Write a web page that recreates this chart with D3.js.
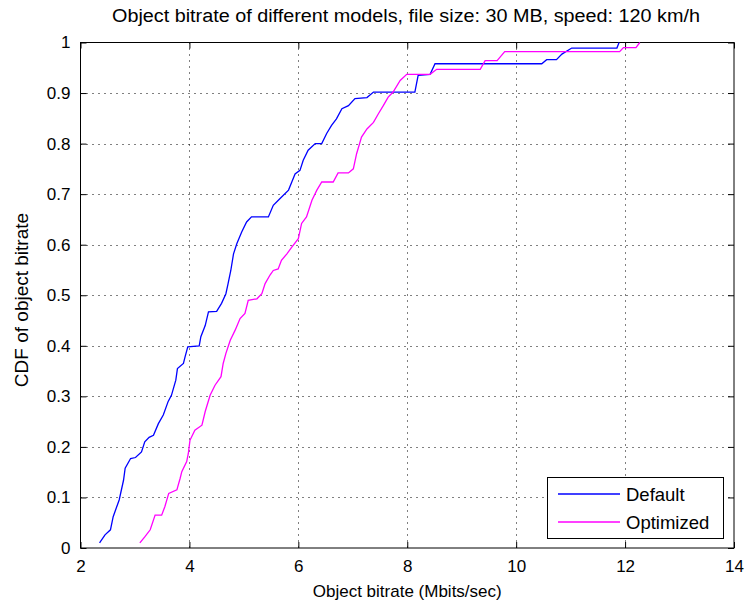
<!DOCTYPE html>
<html>
<head>
<meta charset="utf-8">
<script src="https://cdn.jsdelivr.net/npm/d3@7"></script>
<style>
  body { margin: 0; background: #fff; }
  text { font-family: "Liberation Sans", Arial, sans-serif; fill: #000; }
</style>
</head>
<body>
<script>
// traced CDF points
const defaultX = [2.35, 2.45, 2.55, 2.6, 2.71, 2.79, 2.82, 2.92, 3.01, 3.12, 3.18, 3.26, 3.34, 3.43, 3.52, 3.61, 3.67, 3.75, 3.78, 3.89, 3.92, 3.97, 4.18, 4.21, 4.29, 4.35, 4.5, 4.59, 4.67, 4.71, 4.76, 4.81, 4.87, 4.96, 5.05, 5.14, 5.45, 5.54, 5.66, 5.82, 5.88, 5.94, 6.03, 6.09, 6.18, 6.31, 6.43, 6.52, 6.61, 6.7, 6.8, 6.92, 7.04, 7.26, 7.38, 8.14, 8.2, 8.42, 8.51, 10.47, 10.56, 10.74, 10.84, 11.02, 11.85, 11.89];
const defaultY = [0.01, 0.026, 0.036, 0.062, 0.095, 0.134, 0.158, 0.177, 0.179, 0.19, 0.21, 0.219, 0.223, 0.246, 0.263, 0.29, 0.302, 0.332, 0.355, 0.365, 0.378, 0.398, 0.4, 0.418, 0.44, 0.467, 0.468, 0.484, 0.503, 0.523, 0.549, 0.582, 0.602, 0.625, 0.645, 0.655, 0.655, 0.678, 0.691, 0.708, 0.724, 0.74, 0.747, 0.767, 0.787, 0.8, 0.8, 0.82, 0.836, 0.849, 0.869, 0.875, 0.889, 0.891, 0.902, 0.902, 0.935, 0.937, 0.958, 0.958, 0.966, 0.966, 0.977, 0.989, 0.989, 1.0];

const optimizedX = [3.09, 3.18, 3.28, 3.37, 3.49, 3.55, 3.62, 3.77, 3.83, 3.86, 3.95, 3.98, 4.01, 4.1, 4.23, 4.29, 4.38, 4.47, 4.58, 4.62, 4.67, 4.75, 4.84, 4.93, 5.02, 5.08, 5.24, 5.33, 5.39, 5.48, 5.54, 5.63, 5.69, 5.79, 5.88, 6.0, 6.06, 6.15, 6.25, 6.34, 6.43, 6.64, 6.73, 6.92, 7.01, 7.07, 7.16, 7.26, 7.38, 7.47, 7.56, 7.65, 7.74, 7.87, 7.99, 8.42, 8.54, 9.34, 9.43, 9.65, 9.79, 11.9, 11.97, 12.2, 12.27];
const optimizedY = [0.01, 0.022, 0.036, 0.065, 0.065, 0.082, 0.108, 0.115, 0.138, 0.151, 0.171, 0.187, 0.213, 0.233, 0.243, 0.27, 0.302, 0.322, 0.339, 0.365, 0.385, 0.411, 0.431, 0.454, 0.464, 0.49, 0.493, 0.503, 0.523, 0.54, 0.549, 0.552, 0.569, 0.582, 0.595, 0.612, 0.642, 0.655, 0.688, 0.708, 0.724, 0.724, 0.742, 0.742, 0.75, 0.78, 0.813, 0.829, 0.842, 0.859, 0.875, 0.892, 0.902, 0.925, 0.937, 0.937, 0.947, 0.947, 0.964, 0.964, 0.982, 0.982, 0.99, 0.99, 1.0];

const xTicks = [2, 4, 6, 8, 10, 12, 14];
const yTicks = [0, 0.1, 0.2, 0.3, 0.4, 0.5, 0.6, 0.7, 0.8, 0.9, 1];
const seriesNames = ["Default", "Optimized"];
const seriesColors = ["#0000ff", "#ff00ff"];

const width = 746, height = 606;
const mLeft = 80.5, mRight = 734, mTop = 42.5, mBottom = 548;

const svg = d3.select("body").append("svg")
  .attr("width", width).attr("height", height);

const x = d3.scaleLinear([2, 14], [mLeft, mRight]);
const y = d3.scaleLinear([0, 1], [mBottom, mTop]);

// grid
const grid = svg.append("g").attr("stroke", "#000").attr("stroke-dasharray", "1,5");
grid.selectAll(".gx").data(xTicks.slice(1, -1)).join("line")
  .attr("x1", d => Math.round(x(d)) + 0.5).attr("x2", d => Math.round(x(d)) + 0.5)
  .attr("y1", mTop).attr("y2", mBottom);
grid.selectAll(".gy").data(yTicks.slice(1, -1)).join("line")
  .attr("y1", d => Math.round(y(d)) + 0.5).attr("y2", d => Math.round(y(d)) + 0.5)
  .attr("x1", mLeft).attr("x2", mRight);

// axes, ticks pointing in
const xAxis = d3.axisBottom(x).tickValues(xTicks).tickSize(-6).tickPadding(12).tickFormat(d3.format("d"));
const yAxis = d3.axisLeft(y).tickValues(yTicks).tickSize(-6).tickPadding(10).tickFormat(d => d === 0 || d === 1 ? d : d3.format(".1f")(d));

const gx = svg.append("g").attr("transform", `translate(0,${mBottom})`).call(xAxis);
const gy = svg.append("g").attr("transform", `translate(${mLeft},0)`).call(yAxis);
svg.append("g").attr("transform", `translate(0,${mTop})`).call(d3.axisTop(x).tickValues(xTicks).tickSize(-6).tickFormat(""));
svg.append("g").attr("transform", `translate(${mRight},0)`).call(d3.axisRight(y).tickValues(yTicks).tickSize(-6).tickFormat(""));
svg.selectAll(".domain").remove();
svg.selectAll(".tick line").attr("stroke", "#000");
gx.selectAll("text").attr("font-size", 17).attr("font-family", "Liberation Sans, Arial, sans-serif");
gy.selectAll("text").attr("font-size", 17).attr("font-family", "Liberation Sans, Arial, sans-serif");

svg.append("rect").attr("x", mLeft).attr("y", mTop)
  .attr("width", mRight - mLeft).attr("height", mBottom - mTop)
  .attr("fill", "none").attr("stroke", "#000");

// curves
const line = d3.line().x(d => x(d[0])).y(d => y(d[1]));
const series = [d3.zip(defaultX, defaultY), d3.zip(optimizedX, optimizedY)];
svg.selectAll(".curve").data(series).join("path")
  .attr("d", line).attr("fill", "none")
  .attr("stroke", (d, i) => seriesColors[i]).attr("stroke-width", 1.3);

// legend
const lg = svg.append("g");
lg.append("rect").attr("x", 547.5).attr("y", 477.5).attr("width", 176).attr("height", 61)
  .attr("fill", "#fff").attr("stroke", "#000");
seriesNames.forEach((name, i) => {
  const ly = 494 + i * 28;
  lg.append("line").attr("x1", 558).attr("x2", 620).attr("y1", ly).attr("y2", ly)
    .attr("stroke", seriesColors[i]).attr("stroke-width", 1.3);
  lg.append("text").attr("x", 626).attr("y", ly + 6.5).attr("font-size", 18.5).text(name);
});

// labels
svg.append("text").attr("x", 406).attr("y", 22).attr("text-anchor", "middle")
  .attr("font-size", 18).attr("textLength", 588).attr("lengthAdjust", "spacingAndGlyphs")
  .text("Object bitrate of different models, file size: 30 MB, speed: 120 km/h");
svg.append("text").attr("x", (mLeft + mRight) / 2).attr("y", 597).attr("text-anchor", "middle")
  .attr("font-size", 17).text("Object bitrate (Mbits/sec)");
svg.append("text").attr("transform", `translate(28,300) rotate(-90)`)
  .attr("text-anchor", "middle").attr("font-size", 19).text("CDF of object bitrate");
</script>
</body>
</html>
